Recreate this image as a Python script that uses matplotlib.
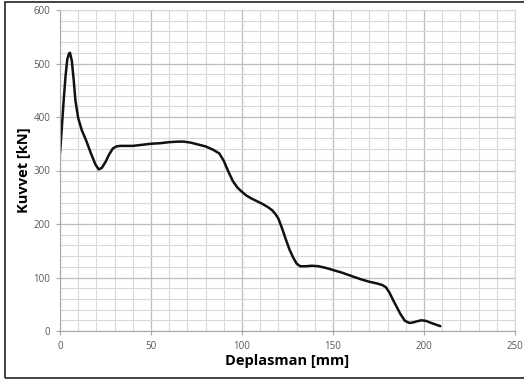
import numpy as np
import matplotlib.pyplot as plt
from matplotlib.patches import Rectangle
from matplotlib.ticker import MultipleLocator

# values
deplasman = [0, 1, 2, 3, 4, 5, 5.5, 6.5, 7.5, 8.5, 10, 12, 14.5, 17, 19.5, 21.3,
             23, 25, 27, 29, 31, 33, 36, 40, 45, 50, 55, 60, 65, 68, 72, 76.5,
             80, 84, 87.5, 90, 92.5, 95, 97.5, 100, 102.5, 105, 108, 111, 114,
             116.5, 118.5, 120, 122, 124, 126, 128, 130, 132, 135, 138.5, 142,
             146, 150, 155, 160, 165, 170, 174, 177, 179, 181, 183, 185, 187,
             189.5, 192, 194, 196, 198.5, 201, 204, 206.5, 209]
kuvvet = [332, 380, 430, 475, 508, 519, 520, 505, 470, 430, 398, 375, 355, 332,
          311, 302, 305, 316, 330, 341, 345, 346, 346, 346, 348, 350, 351, 353,
          354, 354, 352, 348, 345, 339, 332, 318, 298, 280, 268, 260, 253, 248,
          243, 238, 232, 226, 218, 210, 192, 172, 153, 138, 126, 121, 121, 122,
          121, 118, 114, 109, 103, 97, 92, 89, 86, 82, 72, 58, 45, 32, 19, 15,
          16, 18, 20, 19, 15, 12, 9]

plt.rcParams['font.family'] = ['Open Sans', 'DejaVu Sans']

fig = plt.figure(figsize=(5.24, 3.85), dpi=100)
ax = fig.add_axes([60 / 524, 1 - 331 / 385, 455 / 524, 321 / 385])

ax.plot(deplasman, kuvvet, color='#111111', lw=1.8, solid_capstyle='round')

ax.set_xlim(0, 250)
ax.set_ylim(0, 600)
ax.xaxis.set_major_locator(MultipleLocator(50))
ax.xaxis.set_minor_locator(MultipleLocator(10))
ax.yaxis.set_major_locator(MultipleLocator(100))
ax.yaxis.set_minor_locator(MultipleLocator(20))
ax.grid(which='major', color='#bdbdbd', lw=0.9)
ax.grid(which='minor', color='#d9d9d9', lw=0.8)
ax.set_axisbelow(True)

for side in ['top', 'right']:
    ax.spines[side].set_color('#d9d9d9')
for side in ['left', 'bottom']:
    ax.spines[side].set_color('#a6a6a6')

ax.tick_params(which='major', length=3, width=0.8, color='#a6a6a6',
               labelsize=7, labelcolor='#595959', pad=4)
ax.tick_params(which='minor', length=0)

ax.set_xlabel('Deplasman [mm]', fontsize=10.5, fontweight='bold', labelpad=2)
ax.set_ylabel('Kuvvet [kN]', fontsize=10.5, fontweight='bold', labelpad=2)

# outer frame of the chart area
fig.patches.append(Rectangle((5 / 524, 1 - 378 / 385), 530 / 524, 376 / 385,
                             transform=fig.transFigure, fill=False,
                             edgecolor='#222222', lw=1.2))

fig.savefig('out.png', dpi=100)
